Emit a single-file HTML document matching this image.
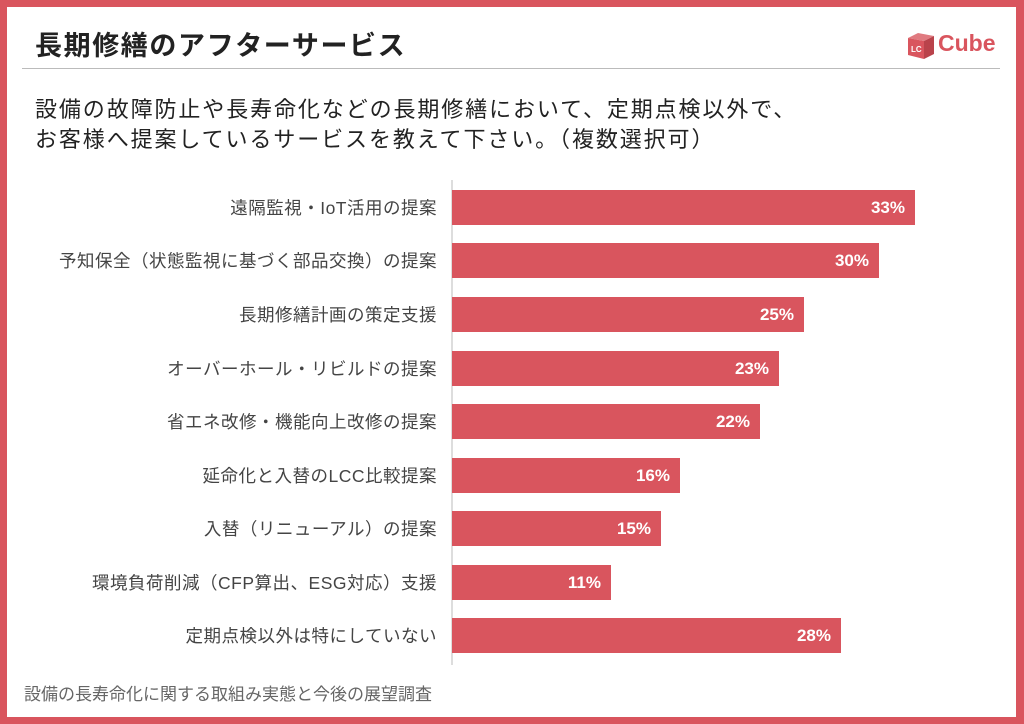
<!DOCTYPE html>
<html><head><meta charset="utf-8"><style>
body{margin:0;width:1024px;height:724px;overflow:hidden;background:#fff;font-family:"Liberation Sans","Noto Sans CJK JP",sans-serif;}
.frame{position:absolute;left:0;top:0;width:1024px;height:724px;box-sizing:border-box;border:7px solid #d9555e;border-right-width:8px;}
.t{position:absolute;white-space:nowrap;}
.bar{position:absolute;left:452px;height:35px;background:#d9555e;}
.bar span{position:absolute;right:10px;top:0;line-height:35px;color:#fff;font-size:17px;font-weight:bold;}
.lab{position:absolute;right:587px;font-size:17.5px;color:#444;line-height:20px;white-space:nowrap;letter-spacing:0.5px;}
</style></head><body>
<div class="frame"></div>
<div class="t" style="left:35px;top:24px;font-size:27px;letter-spacing:1.6px;font-weight:bold;color:#222;">長期修繕のアフターサービス</div>
<div style="position:absolute;left:22px;top:68px;width:978px;height:1px;background:#bbb;"></div>
<svg style="position:absolute;left:906px;top:30px" width="30" height="30" viewBox="0 0 30 30">
<polygon points="2,8 12,3 28,6 18,11" fill="#e07a80"/>
<polygon points="2,8 18,11 18,29 2,25" fill="#d9555e"/>
<polygon points="18,11 28,6 28,24 18,29" fill="#b9434b"/>
<text x="5" y="22" font-size="8" fill="#fff" font-weight="bold" font-family="Liberation Sans">LC</text>
</svg>
<div class="t" style="left:938px;top:30px;font-size:23px;font-weight:bold;color:#d9555e;">Cube</div>
<div class="t" style="left:35px;top:95px;font-size:22px;letter-spacing:1.9px;color:#222;line-height:30px;">設備の故障防止や長寿命化などの長期修繕において、定期点検以外で、<br>お客様へ提案しているサービスを教えて下さい。（複数選択可）</div>
<div style="position:absolute;left:451px;top:180px;width:2px;height:485px;background:#ddd;"></div>
<div class="lab" style="top:198px">遠隔監視・IoT活用の提案</div>
<div class="bar" style="top:190px;width:463px"><span>33%</span></div>
<div class="lab" style="top:251px">予知保全（状態監視に基づく部品交換）の提案</div>
<div class="bar" style="top:243px;width:427px"><span>30%</span></div>
<div class="lab" style="top:305px">長期修繕計画の策定支援</div>
<div class="bar" style="top:297px;width:352px"><span>25%</span></div>
<div class="lab" style="top:359px">オーバーホール・リビルドの提案</div>
<div class="bar" style="top:351px;width:327px"><span>23%</span></div>
<div class="lab" style="top:412px">省エネ改修・機能向上改修の提案</div>
<div class="bar" style="top:404px;width:308px"><span>22%</span></div>
<div class="lab" style="top:466px">延命化と入替のLCC比較提案</div>
<div class="bar" style="top:458px;width:228px"><span>16%</span></div>
<div class="lab" style="top:519px">入替（リニューアル）の提案</div>
<div class="bar" style="top:511px;width:209px"><span>15%</span></div>
<div class="lab" style="top:573px">環境負荷削減（CFP算出、ESG対応）支援</div>
<div class="bar" style="top:565px;width:159px"><span>11%</span></div>
<div class="lab" style="top:626px">定期点検以外は特にしていない</div>
<div class="bar" style="top:618px;width:389px"><span>28%</span></div>
<div class="t" style="left:24px;top:680px;font-size:17px;color:#666;">設備の長寿命化に関する取組み実態と今後の展望調査</div>
</body></html>
